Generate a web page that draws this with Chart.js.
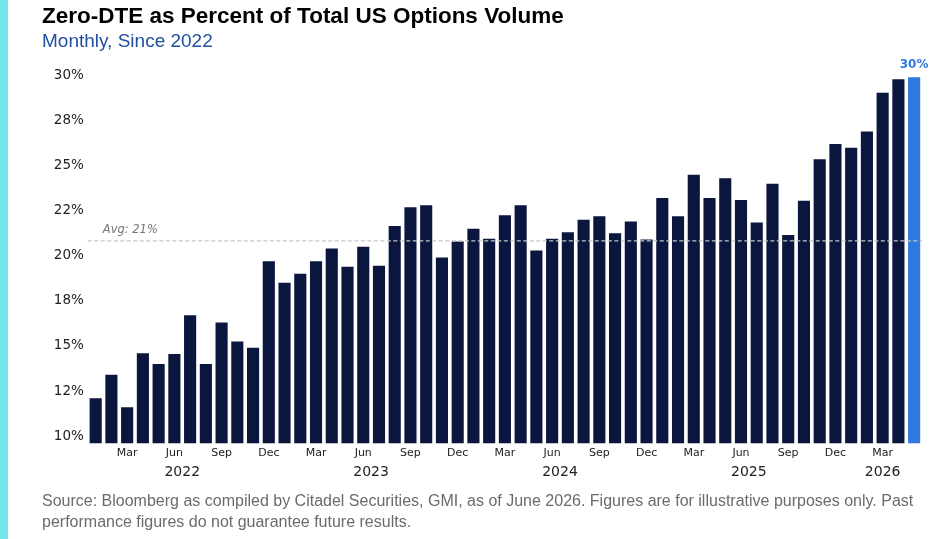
<!DOCTYPE html>
<html>
<head>
<meta charset="utf-8">
<script src="https://cdn.jsdelivr.net/npm/chart.js@4.4.1/dist/chart.umd.min.js"></script>
<style>
  html, body { margin: 0; padding: 0; background: #fff; }
  #wrap { position: relative; width: 938px; height: 539px; overflow: hidden; }
  #stripe { position: absolute; left: 0; top: 0; width: 8px; height: 539px; background: #72e6e8; }
  #c { position: absolute; left: 0; top: 0; }
  .txt { position: absolute; left: 42px; font-family: "Liberation Sans", Arial, sans-serif; white-space: nowrap; }
  #title { top: 3px; font-size: 22.5px; line-height: 26px; font-weight: bold; color: #000; }
  #subtitle { top: 29.5px; font-size: 19px; line-height: 22px; color: #1f4f9e; }
  #source { top: 490px; font-size: 16px; line-height: 21px; color: #6b6b6b; }
</style>
</head>
<body>
<div id="wrap">
  <div id="stripe"></div>
  <canvas id="c" width="938" height="539"></canvas>
  <div class="txt" id="title">Zero-DTE as Percent of Total US Options Volume</div>
  <div class="txt" id="subtitle">Monthly, Since 2022</div>
  <div class="txt" id="source">Source: Bloomberg as compiled by Citadel Securities, GMI, as of June 2026. Figures are for illustrative purposes only. Past<br>performance figures do not guarantee future results.</div>
</div>
<script>
// monthly observations, Jan 2022 - May 2026
const months = [
    "2022-01", "2022-02", "2022-03", "2022-04", "2022-05", "2022-06", "2022-07", "2022-08", "2022-09", "2022-10", "2022-11", "2022-12",
    "2023-01", "2023-02", "2023-03", "2023-04", "2023-05", "2023-06", "2023-07", "2023-08", "2023-09", "2023-10", "2023-11", "2023-12",
    "2024-01", "2024-02", "2024-03", "2024-04", "2024-05", "2024-06", "2024-07", "2024-08", "2024-09", "2024-10", "2024-11", "2024-12",
    "2025-01", "2025-02", "2025-03", "2025-04", "2025-05", "2025-06", "2025-07", "2025-08", "2025-09", "2025-10", "2025-11", "2025-12",
    "2026-01", "2026-02", "2026-03", "2026-04", "2026-05"
];
const zeroDteShare = [
    12.1, 13.4, 11.6, 14.6, 14.0, 14.55, 16.7, 14.0, 16.3, 15.25, 14.9, 19.7,
    18.5, 19.0, 19.7, 20.4, 19.4, 20.5, 19.45, 21.65, 22.7, 22.8, 19.9, 20.8,
    21.5, 20.95, 22.25, 22.8, 20.3, 20.95, 21.3, 22.0, 22.2, 21.25, 21.9, 20.9,
    23.2, 22.2, 24.5, 23.2, 24.3, 23.1, 21.85, 24.0, 21.15, 23.05, 25.35, 26.2,
    26.0, 26.9, 29.05, 29.8, 29.9
];
const monthNames = ["Jan", "Feb", "Mar", "Apr", "May", "Jun", "Jul", "Aug", "Sep", "Oct", "Nov", "Dec"];
const shownMonths = ["Mar", "Jun", "Sep", "Dec"];
const yTicks = [10, 12.5, 15, 17.5, 20, 22.5, 25, 27.5, 30];
const yTickLabels = ["10%", "12%", "15%", "18%", "20%", "22%", "25%", "28%", "30%"];

const NAVY = "#0b163f";
const BLUE = "#2f78e0";
const lastIdx = zeroDteShare.length - 1;
const avg = zeroDteShare.reduce((a, b) => a + b, 0) / zeroDteShare.length;

Chart.defaults.font.family = "'DejaVu Sans', sans-serif";
Chart.defaults.color = "#222";

// avg line, its label, the last-bar label and the year row
const extras = {
    id: "extras",
    afterDatasetsDraw(chart) {
        const { ctx, chartArea, scales } = chart;
        const yAvg = scales.y.getPixelForValue(avg);
        ctx.save();
        ctx.strokeStyle = "#c6c6c6";
        ctx.lineWidth = 1.4;
        ctx.setLineDash([4, 2.5]);
        ctx.beginPath();
        ctx.moveTo(chartArea.left, yAvg);
        ctx.lineTo(chartArea.right, yAvg);
        ctx.stroke();
        ctx.setLineDash([]);

        ctx.fillStyle = "#777";
        ctx.font = "oblique 11.5px 'DejaVu Sans'";
        ctx.textAlign = "left";
        ctx.textBaseline = "middle";
        ctx.fillText("Avg: " + Math.round(avg) + "%", chartArea.left + 15, yAvg - 11);

        const bar = chart.getDatasetMeta(0).data[lastIdx];
        ctx.fillStyle = BLUE;
        ctx.font = "bold 12px 'DejaVu Sans'";
        ctx.textAlign = "center";
        ctx.fillText(Math.round(zeroDteShare[lastIdx]) + "%", bar.x, bar.y - 12);

        // year labels centred under each year's months
        const years = {};
        months.forEach((m, i) => {
            const yr = m.slice(0, 4);
            (years[yr] = years[yr] || []).push(i);
        });
        ctx.fillStyle = "#222";
        ctx.font = "14px 'DejaVu Sans'";
        Object.keys(years).forEach(yr => {
            const idx = years[yr];
            const mid = idx.reduce((a, b) => a + b, 0) / idx.length;
            ctx.fillText(yr, scales.x.getPixelForValue(mid), chartArea.bottom + 29.5);
        });
        ctx.restore();
    }
};

new Chart(document.getElementById("c"), {
    type: "bar",
    data: {
        labels: months,
        datasets: [{
            data: zeroDteShare,
            backgroundColor: zeroDteShare.map((v, i) => i === lastIdx ? BLUE : NAVY),
            categoryPercentage: 1,
            barPercentage: 0.77
        }]
    },
    options: {
        responsive: false,
        animation: false,
        layout: { padding: { left: 0, top: 57.5, right: 16, bottom: 0 } },
        plugins: { legend: { display: false }, tooltip: { enabled: false } },
        scales: {
            x: {
                grid: { display: false, drawTicks: false },
                border: { display: false },
                ticks: {
                    autoSkip: false,
                    maxRotation: 0,
                    padding: 3,
                    font: { size: 11 },
                    callback: (v, i) => {
                        const name = monthNames[parseInt(months[i].slice(5), 10) - 1];
                        return shownMonths.includes(name) ? name : "";
                    }
                },
                afterFit: s => { s.height = 95.7; }
            },
            y: {
                min: 9.6,
                max: 31,
                grid: { display: false, drawTicks: false },
                border: { display: false },
                afterBuildTicks: s => { s.ticks = yTicks.map(v => ({ value: v })); },
                ticks: {
                    padding: 4,
                    font: { size: 13.5 },
                    callback: (v, i) => yTickLabels[i]
                },
                afterFit: s => { s.width = 87.8; }
            }
        }
    },
    plugins: [extras]
});
</script>
</body>
</html>
